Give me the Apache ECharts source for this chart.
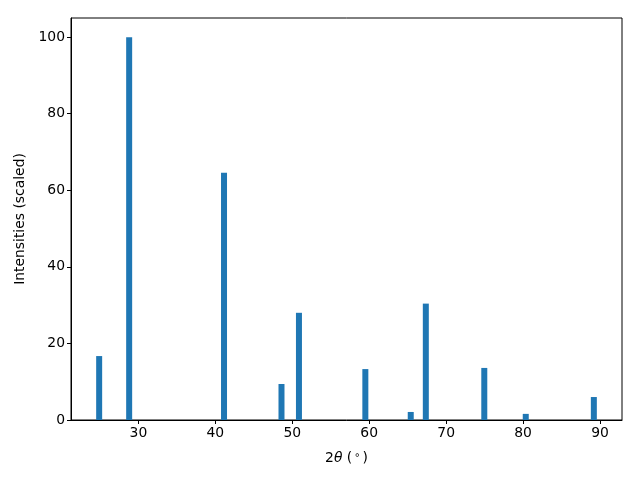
<!DOCTYPE html>
<html>
<head>
<meta charset="utf-8">
<script src="https://cdn.jsdelivr.net/npm/echarts@6/dist/echarts.min.js"></script>
<style>html,body{margin:0;padding:0;background:#fff}#c{width:640px;height:480px}</style>
</head>
<body>
<div id="c"></div>
<script>
const twoTheta = [24.9, 28.8, 41.13, 48.6, 50.87, 59.5, 65.4, 67.36, 74.96, 80.35, 89.2];
const intensity = [16.7, 100, 64.6, 9.4, 28.0, 13.3, 2.1, 30.4, 13.6, 1.6, 6.0];
const xTicks = [30, 40, 50, 60, 70, 80, 90];
const yTicks = [0, 20, 40, 60, 80, 100];

const chart = echarts.init(document.getElementById('c'), null, {renderer: 'canvas'});
const font = 'DejaVu Sans';
const fs = 13.9;
chart.setOption({
  animation: false,
  backgroundColor: '#ffffff',
  grid: {left: 71, right: 18, top: 18, bottom: 60, show: true, borderColor: '#000', borderWidth: 1, backgroundColor: 'transparent'},
  xAxis: {
    type: 'value', min: 21.24, max: 92.86,
    axisLine: {show: true, onZero: false, lineStyle: {color: '#000', width: 1}},
    axisTick: {show: true, length: 4, customValues: xTicks, lineStyle: {color: '#000'}},
    axisLabel: {customValues: xTicks, color: '#000', fontFamily: font, fontSize: fs, margin: 6},
    splitLine: {show: false},
    name: '{n|2}{i|θ}{n| (}{s|∘}{n|)}', nameLocation: 'middle', nameGap: 30,
    nameTextStyle: {rich: {
      n: {fontFamily: font, fontSize: fs, color: '#000'},
      i: {fontFamily: font, fontSize: fs, fontStyle: 'italic', color: '#000'},
      s: {fontFamily: font, fontSize: 10, color: '#000', verticalAlign: 'top', padding: [0, 2, 6, 2]}
    }}
  },
  yAxis: {
    type: 'value', min: 0, max: 105,
    axisLine: {show: true, lineStyle: {color: '#000', width: 1}},
    axisTick: {show: true, length: 4, customValues: yTicks, lineStyle: {color: '#000'}},
    axisLabel: {customValues: yTicks, color: '#000', fontFamily: font, fontSize: fs, margin: 6},
    splitLine: {show: false},
    name: 'Intensities (scaled)', nameLocation: 'middle', nameGap: 44,
    nameTextStyle: {fontFamily: font, fontSize: fs, color: '#000'}
  },
  series: [{
    type: 'bar',
    data: twoTheta.map((x, i) => [x, intensity[i]]),
    barWidth: 6,
    itemStyle: {color: '#1f77b4'}
  }]
});
</script>
</body>
</html>
